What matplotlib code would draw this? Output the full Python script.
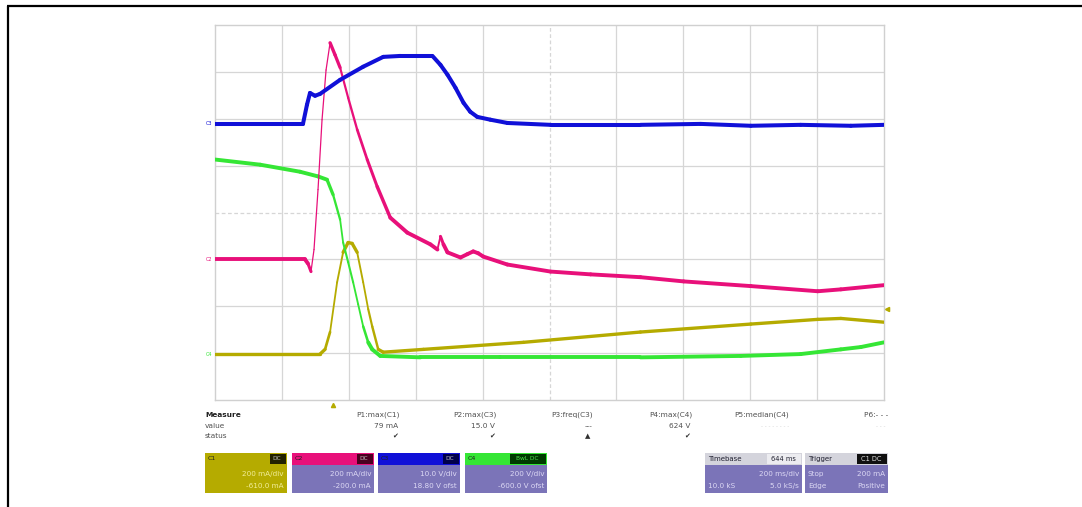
"""Scope capture: energy pulse on four channels with measurement strip."""
import matplotlib
matplotlib.use("Agg")
import matplotlib.pyplot as plt
import numpy as np
from matplotlib.collections import LineCollection
from matplotlib.patches import Rectangle

W, H = 1082, 507
MS_PER_DIV = 200  # timebase
N_XDIV, N_YDIV = 10, 8

# traces: time in ms, level in divisions from centre
c3_t = [0, 263, 275, 284, 299, 314, 374, 443, 503, 554, 650, 674, 695, 719, 743,
        763, 784, 823, 874, 1003, 1272, 1452, 1602, 1751, 1901, 2000]
c3_v = [1.89, 1.89, 2.30, 2.55, 2.49, 2.53, 2.83, 3.11, 3.32, 3.34, 3.34, 3.15, 2.94,
        2.66, 2.34, 2.15, 2.04, 1.98, 1.91, 1.87, 1.87, 1.89, 1.85, 1.87, 1.85, 1.87]

c2_t = [0, 269, 278, 287, 296, 308, 320, 332, 344, 359, 374, 398, 425, 455, 485, 524,
        575, 644, 665, 674, 683, 695, 734, 754, 772, 787, 802, 874, 1003, 1123, 1272,
        1401, 1602, 1802, 1871, 2000]
c2_v = [-1.00, -1.00, -1.09, -1.26, -0.79, 0.49, 1.98, 3.04, 3.62, 3.36, 3.09, 2.45,
        1.77, 1.13, 0.55, -0.11, -0.43, -0.68, -0.79, -0.51, -0.68, -0.85, -0.96, -0.89,
        -0.83, -0.87, -0.94, -1.11, -1.26, -1.32, -1.38, -1.47, -1.57, -1.68, -1.64, -1.55]

c4_t = [0, 135, 254, 308, 335, 353, 374, 383, 398, 413, 428, 443, 458, 470, 494, 614,
        853, 1272, 1572, 1751, 1871, 1931, 2000]
c4_v = [1.13, 1.02, 0.87, 0.77, 0.70, 0.38, -0.15, -0.64, -1.06, -1.49, -1.96, -2.43,
        -2.77, -2.92, -3.06, -3.09, -3.09, -3.09, -3.06, -3.02, -2.92, -2.87, -2.77]

c1_t = [0, 314, 329, 344, 365, 383, 398, 410, 425, 443, 458, 470, 488, 503, 623, 922,
        1272, 1602, 1802, 1871, 2000]
c1_v = [-3.02, -3.02, -2.92, -2.55, -1.49, -0.85, -0.64, -0.66, -0.85, -1.49, -2.06,
        -2.43, -2.92, -2.98, -2.92, -2.77, -2.55, -2.38, -2.28, -2.26, -2.34]

# measurement strip
meas_names = ["P1:max(C1)", "P2:max(C3)", "P3:freq(C3)", "P4:max(C4)", "P5:median(C4)", "P6:- - -"]
meas_values = ["79 mA", "15.0 V", "---", "624 V", "", ""]
meas_status = ["\u2714", "\u2714", "\u25b2", "\u2714", "", ""]

channels = [
    # name, tag, scale, offset
    ("C1", "DC", "200 mA/div", "-610.0 mA"),
    ("C2", "DC", "200 mA/div", "-200.0 mA"),
    ("C3", "DC", "10.0 V/div", "18.80 V ofst"),
    ("C4", "BwL DC", "200 V/div", "-600.0 V ofst"),
]

COL = {"C1": "#b5ab00", "C2": "#e8107a", "C3": "#1010d8", "C4": "#35e635"}
PANEL = "#7b74b8"
PANEL_TXT = "#dcd8f4"


def draw_trace(ax, t, v, color, thick=2.6, thin=1.0, k=3.0, z=3):
    # steep edges get drawn thinner, like a sampled trace on the scope
    x = np.asarray(t, float)
    y = np.asarray(v, float)
    pts = np.column_stack([x, y])
    segs = np.stack([pts[:-1], pts[1:]], axis=1)
    slope = np.abs(np.diff(y) / (np.diff(x) / MS_PER_DIV)) + 1e-9
    lw = np.clip(thick * np.minimum(1.0, k / slope), thin, thick)
    lc = LineCollection(segs, colors=color, linewidths=lw, capstyle="round",
                        joinstyle="round", zorder=z)
    ax.add_collection(lc)


fig = plt.figure(figsize=(W / 100, H / 100), dpi=100)

# full-figure overlay in pixel units
ov = fig.add_axes([0, 0, 1, 1])
ov.set_xlim(0, W)
ov.set_ylim(H, 0)
ov.axis("off")

# black frame (cropped at right/bottom)
ov.plot([8, 8], [6, H], color="black", lw=1.6, solid_capstyle="butt")
ov.plot([7, W], [6, 6], color="black", lw=1.6, solid_capstyle="butt")

# scope graticule
gx0, gx1, gy0, gy1 = 215, 884, 25, 400
ax = fig.add_axes([gx0 / W, 1 - gy1 / H, (gx1 - gx0) / W, (gy1 - gy0) / H])
ax.set_xlim(0, N_XDIV * MS_PER_DIV)
ax.set_ylim(-N_YDIV / 2, N_YDIV / 2)
ax.set_xticks([])
ax.set_yticks([])
for s in ax.spines.values():
    s.set_color("#d0d0d0")
    s.set_linewidth(1.0)
for i in range(1, N_XDIV):
    ls = (0, (3, 2)) if i == N_XDIV // 2 else "-"
    ax.axvline(i * MS_PER_DIV, color="#d6d6d6", lw=0.9, ls=ls, zorder=1)
for j in range(-N_YDIV // 2 + 1, N_YDIV // 2):
    ls = (0, (3, 2)) if j == 0 else "-"
    ax.axhline(j, color="#d6d6d6", lw=0.9, ls=ls, zorder=1)

draw_trace(ax, c1_t, c1_v, COL["C1"], thick=2.4, thin=1.3, k=4, z=3)
draw_trace(ax, c4_t, c4_v, COL["C4"], thick=2.8, thin=1.3, k=3, z=4)
draw_trace(ax, c2_t, c2_v, COL["C2"], thick=2.8, thin=0.9, k=3, z=5)
draw_trace(ax, c3_t, c3_v, COL["C3"], thick=2.9, thin=2.2, k=12, z=6)

# ground markers at the left of the grid
for name, lvl in [("C3", c3_v[0]), ("C2", c2_v[0]), ("C4", c1_v[0])]:
    ax.text(-8, lvl, name, fontsize=3.5, color=COL[name], ha="right", va="center",
            clip_on=False)
# trigger markers
ov.plot([887], [309], marker="<", ms=3, color=COL["C1"], ls="none")
ov.plot([333], [405], marker="^", ms=3, color=COL["C1"], ls="none")

# measure strip
txt_kw = dict(fontsize=5.3, color="#505050", va="center")
ov.text(205, 415, "Measure", fontsize=5.3, color="#202020", weight="bold", va="center")
ov.text(205, 426, "value", **txt_kw)
ov.text(205, 436, "status", **txt_kw)
col_right = [400, 497, 593, 692, 789, 888]
for xr, name, val, st in zip(col_right, meas_names, meas_values, meas_status):
    ov.text(xr, 415, name, ha="right", **txt_kw)
    if val == "---":
        ov.text(xr - 4, 426, val, ha="center", **txt_kw)
    elif val:
        ov.text(xr - 2, 426, val, ha="right", **txt_kw)
    if st:
        ov.text(xr - 5, 436, st, ha="center", fontsize=5, color="#303030", va="center")
ov.text(789, 427, "- - - - - - - -", ha="right", fontsize=4, color="#d0d0d0", va="center")
ov.text(885, 427, "- - -", ha="right", fontsize=4, color="#d0d0d0", va="center")

# channel boxes
box_x = [205, 292, 378, 465]
box_w = 82
by0, bh_head, bh = 453, 12, 40
tag_dark = {"C1": "#222200", "C2": "#4a0020", "C3": "#00004a", "C4": "#003a00"}
for x0, (name, tag, scale, ofs) in zip(box_x, channels):
    c = COL[name]
    body = c if name == "C1" else PANEL
    ov.add_patch(Rectangle((x0, by0), box_w, bh, facecolor=body, edgecolor="none"))
    ov.add_patch(Rectangle((x0, by0), box_w, bh_head, facecolor=c, edgecolor="none"))
    tw = 16 if len(tag) < 4 else 36
    ov.add_patch(Rectangle((x0 + box_w - tw - 1, by0 + 1), tw, bh_head - 2,
                           facecolor=tag_dark[name], edgecolor="none"))
    ov.text(x0 + 3, by0 + bh_head / 2, name, fontsize=4.5, color="#202020", va="center")
    tag_col = "#50e050" if name == "C4" else "#c0c0c0"
    ov.text(x0 + box_w - 2 - tw / 2, by0 + bh_head / 2, tag, fontsize=4.2,
            color=tag_col, va="center", ha="center")
    tc = "#f2ee9a" if name == "C1" else PANEL_TXT
    ov.text(x0 + box_w - 3, by0 + 21, scale, fontsize=5.2, color=tc, ha="right", va="center")
    ov.text(x0 + box_w - 3, by0 + 33, ofs, fontsize=5.2, color=tc, ha="right", va="center")

# timebase / trigger boxes
for x0, w, head, head_r, rows in [
    (705, 97, "Timebase", "644 ms", [("", "200 ms/div"), ("10.0 kS", "5.0 kS/s")]),
    (805, 83, "Trigger", "C1 DC", [("Stop", "200 mA"), ("Edge", "Positive")]),
]:
    ov.add_patch(Rectangle((x0, by0), w, bh, facecolor=PANEL, edgecolor="none"))
    ov.add_patch(Rectangle((x0, by0), w, bh_head, facecolor="#d4d4dc", edgecolor="none"))
    dark = head == "Trigger"
    rw = 30 if dark else 34
    ov.add_patch(Rectangle((x0 + w - rw - 1, by0 + 1), rw, bh_head - 2,
                           facecolor="#101010" if dark else "#ececf0", edgecolor="none"))
    ov.text(x0 + 3, by0 + bh_head / 2, head, fontsize=5, color="#202030", va="center")
    ov.text(x0 + w - 2 - rw / 2, by0 + bh_head / 2, head_r, fontsize=4.8,
            color="#e0e0e0" if dark else "#202030", va="center", ha="center")
    for k, (left, right) in enumerate(rows):
        yy = by0 + 21 + 12 * k
        if left:
            ov.text(x0 + 3, yy, left, fontsize=5.2, color=PANEL_TXT, va="center")
        ov.text(x0 + w - 3, yy, right, fontsize=5.2, color=PANEL_TXT, va="center", ha="right")

fig.savefig("out.png", dpi=100)
